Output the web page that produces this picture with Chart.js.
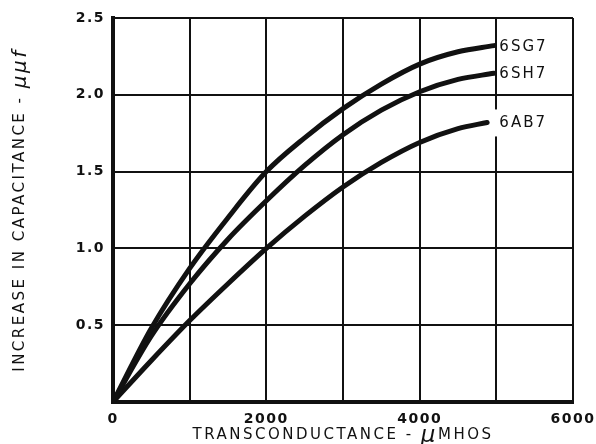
<!DOCTYPE html>
<html>
<head>
<meta charset="utf-8">
<script src="https://cdn.jsdelivr.net/npm/chart.js@4.4.1/dist/chart.umd.min.js"></script>
<style>
  html, body { margin: 0; padding: 0; background: #fff; }
  #wrap { width: 596px; height: 444px; }
</style>
</head>
<body>
<div id="wrap"><canvas id="capChart" width="596" height="444"></canvas></div>
<script>
// transconductance (micromhos) and capacitance increase (uuf) per tube
var gmSG7 = [0, 500, 1000, 1500, 2000, 2500, 3000, 3500, 4000, 4500, 4970];
var capSG7 = [0, 0.48, 0.87, 1.20, 1.50, 1.72, 1.91, 2.07, 2.20, 2.28, 2.32];

var gmSH7 = [0, 500, 1000, 1500, 2000, 2500, 3000, 3500, 4000, 4500, 4970];
var capSH7 = [0, 0.43, 0.77, 1.06, 1.31, 1.54, 1.74, 1.90, 2.02, 2.10, 2.14];

var gmAB7 = [0, 500, 1000, 1500, 2000, 2500, 3000, 3500, 4000, 4500, 4880];
var capAB7 = [0, 0.27, 0.53, 0.77, 1.00, 1.21, 1.40, 1.56, 1.69, 1.78, 1.82];

var tubeNames = ['6SG7', '6SH7', '6AB7'];
var xTickLabels = {0: '0', 2000: '2000', 4000: '4000', 6000: '6000'};

var INK = '#111';
var FONT = '"DejaVu Sans", sans-serif';

function pairs(xs, ys) {
  return xs.map(function(x, i) { return {x: x, y: ys[i]}; });
}

function curve(label, xs, ys) {
  return {
    label: label,
    data: pairs(xs, ys),
    borderColor: INK,
    borderWidth: 5,
    pointRadius: 0,
    fill: false,
    cubicInterpolationMode: 'monotone',
    borderCapStyle: 'round'
  };
}

// letter spacing for all canvas text
var spacing = {
  id: 'spacing',
  beforeLayout: function(chart) { chart.ctx.letterSpacing = '1.5px'; },
  beforeDraw: function(chart) { chart.ctx.letterSpacing = '1.5px'; }
};

// tube name at the end of each curve, on a white patch
var endLabels = {
  id: 'endLabels',
  afterDatasetsDraw: function(chart) {
    var ctx = chart.ctx;
    var gridX = chart.scales.x.getPixelForValue(5000);
    ctx.save();
    ctx.letterSpacing = '2px';
    ctx.font = '15px ' + FONT;
    ctx.textBaseline = 'middle';
    ctx.textAlign = 'left';
    chart.data.datasets.forEach(function(ds, i) {
      var pts = chart.getDatasetMeta(i).data;
      var end = pts[pts.length - 1];
      var tx = gridX + 3;
      var w = ctx.measureText(ds.label).width;
      ctx.fillStyle = '#fff';
      ctx.fillRect(end.x + 4, end.y - 13, tx + w - end.x, 27);
      ctx.fillStyle = INK;
      ctx.fillText(ds.label, tx, end.y + 1);
    });
    ctx.restore();
  }
};

function drawPieces(ctx, pieces, cx, cy) {
  var total = 0;
  pieces.forEach(function(p) {
    ctx.font = p.font;
    p.w = ctx.measureText(p.text).width;
    total += p.w;
  });
  var x = cx - total / 2;
  pieces.forEach(function(p) {
    ctx.font = p.font;
    ctx.fillText(p.text, x, cy + (p.dy || 0));
    x += p.w;
  });
}

// axis titles with the italic micro signs
var axisTitles = {
  id: 'axisTitles',
  afterDraw: function(chart) {
    var ctx = chart.ctx;
    var area = chart.chartArea;
    ctx.save();
    ctx.letterSpacing = '2.5px';
    ctx.fillStyle = INK;
    ctx.textBaseline = 'middle';
    ctx.textAlign = 'left';
    drawPieces(ctx, [
      {text: 'TRANSCONDUCTANCE - ', font: '15px ' + FONT},
      {text: '\u03bc', font: 'italic 23px ' + FONT, dy: 1},
      {text: 'MHOS', font: '15px ' + FONT}
    ], (area.left + area.right) / 2, 435);

    ctx.translate(20, (area.top + area.bottom) / 2);
    ctx.rotate(-Math.PI / 2);
    drawPieces(ctx, [
      {text: 'INCREASE IN CAPACITANCE - ', font: '15px ' + FONT},
      {text: '\u03bc\u03bcf', font: 'italic 20px ' + FONT, dy: 1}
    ], 0, 0);
    ctx.restore();
  }
};

new Chart(document.getElementById('capChart'), {
  type: 'line',
  data: {
    datasets: [
      curve(tubeNames[0], gmSG7, capSG7),
      curve(tubeNames[1], gmSH7, capSH7),
      curve(tubeNames[2], gmAB7, capAB7)
    ]
  },
  options: {
    responsive: false,
    animation: false,
    layout: { padding: { top: 18, right: 23, left: 0, bottom: 0 } },
    plugins: {
      legend: { display: false },
      tooltip: { enabled: false }
    },
    scales: {
      x: {
        type: 'linear',
        min: 0,
        max: 6000,
        afterFit: function(scale) {
          scale.height = 42;
          scale.paddingLeft = 0;
          scale.paddingRight = 0;
        },
        ticks: {
          stepSize: 1000,
          color: INK,
          padding: 9,
          maxRotation: 0,
          font: { family: FONT, size: 14, weight: 'bold' },
          callback: function(v) { return xTickLabels[v] !== undefined ? xTickLabels[v] : ''; }
        },
        grid: { color: INK, lineWidth: 2, drawTicks: false },
        border: { color: INK, width: 4 }
      },
      y: {
        min: 0,
        max: 2.5,
        afterFit: function(scale) { scale.width = 113; },
        ticks: {
          stepSize: 0.5,
          color: INK,
          padding: 8,
          font: { family: FONT, size: 14, weight: 'bold' },
          callback: function(v) { return v === 0 ? '' : v.toFixed(1); }
        },
        grid: { color: INK, lineWidth: 2, drawTicks: false },
        border: { color: INK, width: 4 }
      }
    }
  },
  plugins: [spacing, endLabels, axisTitles]
});
</script>
</body>
</html>
